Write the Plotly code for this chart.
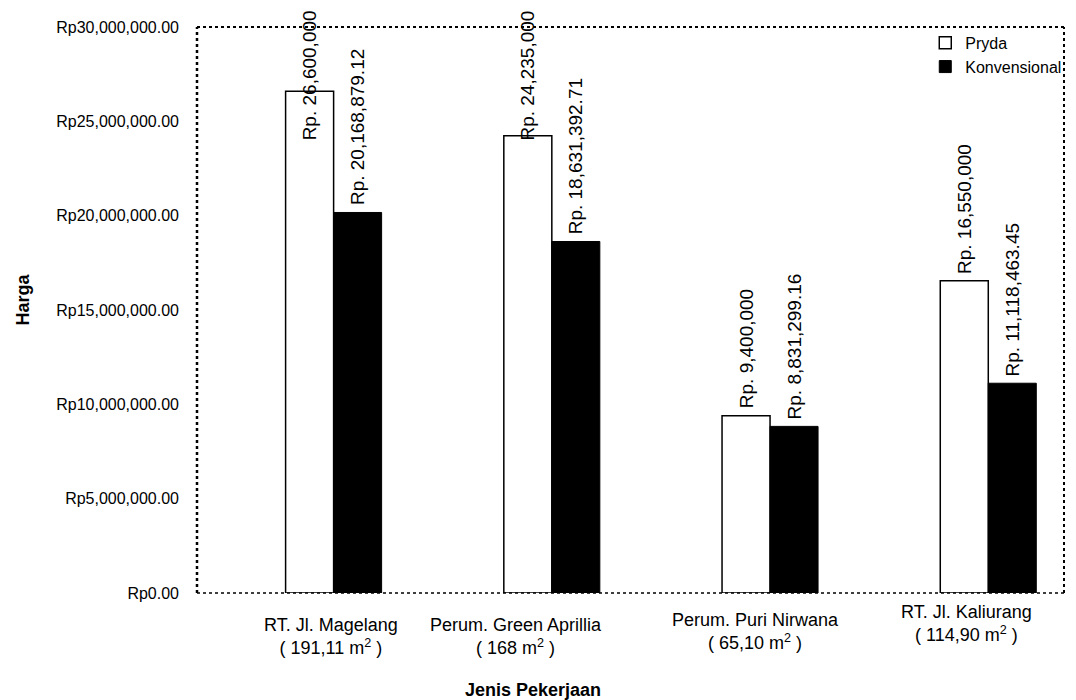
import plotly.graph_objects as go

categories = ["RT. Jl. Magelang", "Perum. Green Aprillia", "Perum. Puri Nirwana", "RT. Jl. Kaliurang"]
areas = ["( 191,11 m<sup>2</sup> )", "( 168 m<sup>2</sup> )", "( 65,10 m<sup>2</sup> )", "( 114,90 m<sup>2</sup> )"]
pryda = [26600000, 24235000, 9400000, 16550000]
konvensional = [20168879.12, 18631392.71, 8831299.16, 11118463.45]
pryda_labels = ["Rp. 26,600,000", "Rp. 24,235,000", "Rp. 9,400,000", "Rp. 16,550,000"]
konv_labels = ["Rp. 20,168,879.12", "Rp. 18,631,392.71", "Rp. 8,831,299.16", "Rp. 11,118,463.45"]
y_ticks = [0, 5000000, 10000000, 15000000, 20000000, 25000000, 30000000]
y_ticktext = ["Rp0.00", "Rp5,000,000.00", "Rp10,000,000.00", "Rp15,000,000.00",
              "Rp20,000,000.00", "Rp25,000,000.00", "Rp30,000,000.00"]

FONT = "Liberation Sans, Arial, sans-serif"
BAR_W = 0.22
LABEL_CAP = 23600000
x = list(range(len(categories)))

fig = go.Figure()
fig.add_trace(go.Bar(x=x, y=pryda, name="Pryda", width=BAR_W, offset=-BAR_W,
                     marker=dict(color="white", line=dict(color="black", width=1.5))))
fig.add_trace(go.Bar(x=x, y=konvensional, name="Konvensional", width=BAR_W, offset=0,
                     marker=dict(color="black", line=dict(color="black", width=1))))

annotations = []
for i in x:
    for val, lab, dx in ((pryda[i], pryda_labels[i], -BAR_W / 2), (konvensional[i], konv_labels[i], BAR_W / 2)):
        annotations.append(dict(x=i + dx, y=min(val, LABEL_CAP), xref="x", yref="y",
                                text=lab, textangle=-90, showarrow=False,
                                xanchor="center", yanchor="bottom", yshift=5,
                                font=dict(family=FONT, size=19, color="black")))

label_px = [0.154, 0.368, 0.644, 0.887]
label_py = [-0.036, -0.036, -0.026, -0.012]
for i in x:
    annotations.append(dict(x=label_px[i], y=label_py[i], xref="paper", yref="paper",
                            text=categories[i] + "<br>" + areas[i], showarrow=False,
                            xanchor="center", yanchor="top", align="center",
                            font=dict(family=FONT, size=18, color="black")))

annotations.append(dict(x=0.387, y=-0.171, xref="paper", yref="paper", text="<b>Jenis Pekerjaan</b>",
                        showarrow=False, xanchor="center", yanchor="middle",
                        font=dict(family=FONT, size=18, color="black")))
annotations.append(dict(x=-0.201, y=0.518, xref="paper", yref="paper", text="<b>Harga</b>",
                        showarrow=False, textangle=-90, xanchor="center", yanchor="middle",
                        font=dict(family=FONT, size=18, color="black")))

shapes = [
    dict(type="line", xref="paper", yref="paper", x0=0, x1=0, y0=0, y1=1,
         line=dict(color="black", width=2.5, dash="dot")),
    dict(type="line", xref="paper", yref="paper", x0=0, x1=1, y0=1, y1=1,
         line=dict(color="black", width=2, dash="dot")),
    dict(type="line", xref="paper", yref="paper", x0=1, x1=1, y0=0, y1=1,
         line=dict(color="black", width=2, dash="dot")),
    dict(type="line", xref="paper", yref="paper", x0=0, x1=1, y0=0, y1=0,
         line=dict(color="black", width=1.5, dash="dot")),
]

fig.update_layout(
    width=1068, height=692,
    margin=dict(l=189, r=9, t=19, b=107),
    paper_bgcolor="white", plot_bgcolor="white",
    barmode="overlay",
    showlegend=True,
    legend=dict(x=0.84, y=1.002, xanchor="left", yanchor="top", bgcolor="rgba(0,0,0,0)",
                font=dict(family=FONT, size=16, color="black"), itemwidth=30, tracegroupgap=0),
    xaxis=dict(range=[-0.626, 3.347], showticklabels=False, showgrid=False, zeroline=False,
               showline=False, ticks=""),
    yaxis=dict(range=[0, 30000000], tickvals=y_ticks, ticktext=y_ticktext, showgrid=False,
               zeroline=False, showline=False, ticks="", ticklabelstandoff=17,
               tickfont=dict(family=FONT, size=16, color="black")),
    annotations=annotations,
    shapes=shapes,
)

fig.write_html("out.html")
